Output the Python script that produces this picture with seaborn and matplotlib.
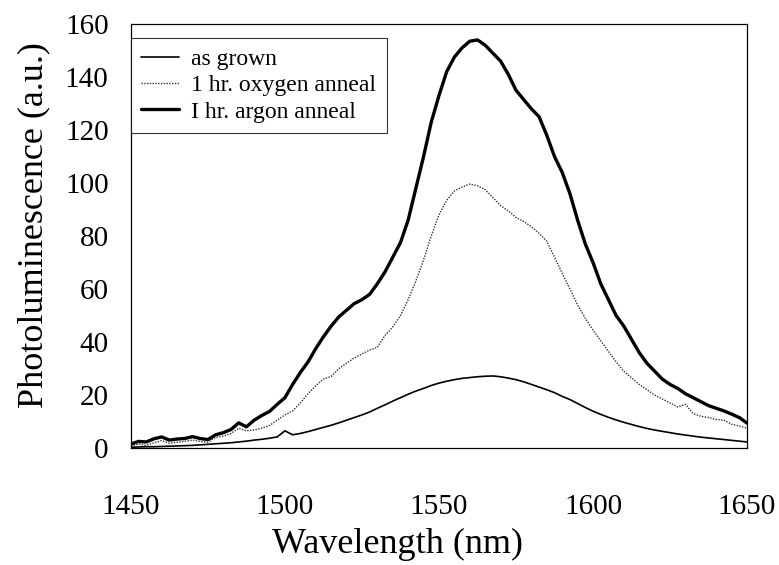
import matplotlib
matplotlib.use("Agg")
import matplotlib.pyplot as plt
import seaborn as sns
import pandas as pd

wavelength = [1450, 1452.5, 1455, 1457.5, 1460, 1462.5, 1465, 1467.5, 1470, 1472.5,
              1475, 1477.5, 1480, 1482.5, 1485, 1487.5, 1490, 1492.5, 1495, 1497.5,
              1500, 1502.5, 1505, 1507.5, 1510, 1512.5, 1515, 1517.5, 1520, 1522.5,
              1525, 1527.5, 1530, 1532.5, 1535, 1537.5, 1540, 1542.5, 1545, 1547.5,
              1550, 1552.5, 1555, 1557.5, 1560, 1562.5, 1565, 1567.5, 1570, 1572.5,
              1575, 1577.5, 1580, 1582.5, 1585, 1587.5, 1590, 1592.5, 1595, 1597.5,
              1600, 1602.5, 1605, 1607.5, 1610, 1612.5, 1615, 1617.5, 1620, 1622.5,
              1625, 1627.5, 1630, 1632.5, 1635, 1637.5, 1640, 1642.5, 1645, 1647.5,
              1650]

as_grown = [0.3, 0.4, 0.5, 0.5, 0.6, 0.7, 0.8, 0.9, 1.0, 1.2,
            1.4, 1.6, 1.8, 2.0, 2.3, 2.6, 3.0, 3.3, 3.7, 4.2,
            6.5, 5.0, 5.5, 6.2, 7.0, 7.8, 8.6, 9.5, 10.5, 11.5,
            12.5, 13.6, 15.0, 16.3, 17.7, 19.0, 20.3, 21.5, 22.5, 23.6,
            24.5, 25.2, 25.8, 26.3, 26.6, 26.9, 27.1, 27.2, 26.9, 26.4,
            25.8, 25.0, 24.0, 23.0, 22.0, 20.9, 19.5, 18.3, 16.8, 15.3,
            13.9, 12.7, 11.6, 10.6, 9.7, 8.9, 8.1, 7.4, 6.8, 6.3,
            5.8, 5.3, 4.9, 4.5, 4.1, 3.8, 3.5, 3.2, 2.9, 2.6,
            2.3]

oxygen = [0.8, 1.5, 1.0, 2.0, 2.8, 1.8, 2.2, 2.5, 3.0, 2.5,
          2.2, 4.0, 4.5, 5.5, 7.5, 6.5, 6.8, 7.5, 8.5, 10.5,
          12.5, 14.0, 17.0, 20.5, 23.5, 26.0, 27.0, 30.0, 32.0, 34.0,
          35.5, 37.0, 38.0, 42.5, 45.7, 50.0, 56.0, 63.0, 71.0, 80.0,
          88.0, 93.5, 97.0, 98.5, 99.6, 99.0, 97.5, 94.5, 91.5, 89.5,
          87.0, 85.5, 83.5, 81.0, 78.0, 72.0, 66.0, 60.0, 54.0, 49.0,
          44.5, 40.5, 36.5, 32.5, 29.0, 26.5, 24.0, 22.0, 20.0, 18.5,
          17.0, 15.5, 16.5, 13.0, 12.0, 11.5, 10.8, 10.5, 9.0, 8.3,
          7.5]

argon = [1.5, 2.5, 2.3, 3.5, 4.2, 3.0, 3.4, 3.6, 4.3, 3.6,
         3.2, 5.0, 5.8, 7.0, 9.5, 8.0, 10.5, 12.3, 13.8, 16.5,
         19.0, 24.0, 28.5, 32.5, 37.5, 42.0, 46.0, 49.5, 52.0, 54.5,
         56.0, 58.0, 62.0, 66.5, 72.0, 77.5, 86.0, 98.0, 110.0, 123.0,
         133.0, 142.0, 147.5, 151.0, 153.5, 154.0, 152.0, 149.0, 146.0, 141.0,
         135.0, 131.5, 128.0, 125.0, 118.0, 110.0, 104.0, 96.0, 86.0, 77.0,
         70.0, 62.0, 56.0, 50.0, 46.0, 41.0, 36.0, 32.0, 29.0, 26.0,
         24.0, 22.5, 20.5, 19.0, 17.5, 16.0, 15.0, 14.0, 12.8, 11.5,
         9.4]

labels = ["as grown", "1 hr. oxygen anneal", "I hr. argon anneal"]
x_ticks = [1450, 1500, 1550, 1600, 1650]
y_ticks = [0, 20, 40, 60, 80, 100, 120, 140, 160]

sns.set_theme(style="white")
plt.rcParams["font.family"] = ["Liberation Serif", "DejaVu Serif"]

fig = plt.figure(figsize=(7.79, 5.65), dpi=100)
ax = fig.add_axes([0.168, 0.207, 0.791, 0.7505])

df = pd.DataFrame({"wl": wavelength, "g": as_grown, "o": oxygen, "a": argon})

sns.lineplot(data=df, x="wl", y="g", ax=ax, color="black", linewidth=1.2,
             label=labels[0])
sns.lineplot(data=df, x="wl", y="o", ax=ax, color="#333333", linewidth=1.0,
             linestyle=(0, (1, 1)), label=labels[1])
sns.lineplot(data=df, x="wl", y="a", ax=ax, color="black", linewidth=2.4,
             label=labels[2])

ax.set_xlim(1450, 1650)
ax.set_ylim(0, 160)
ax.set_xticks(x_ticks)
ax.set_yticks(y_ticks)
ax.tick_params(axis="both", direction="in", length=3, width=0.8, colors="black",
               labelsize=21)
ax.tick_params(axis="y", pad=16)
ax.tick_params(axis="x", pad=33)
for s in ax.spines.values():
    s.set_color("black")
    s.set_linewidth(0.9)

ax.set_xlabel("Wavelength (nm)", fontsize=26, color="black")
ax.set_ylabel("Photoluminescence (a.u.)", fontsize=26, color="black")
ax.xaxis.set_label_coords(0.432, -0.188)
ax.yaxis.set_label_coords(-0.131, 0.526)

leg = ax.legend(loc="upper left", bbox_to_anchor=(0.0, 0.967), borderaxespad=0,
                fontsize=17, frameon=True, fancybox=False, handlelength=1.6,
                handletextpad=0.5, labelspacing=0.2, borderpad=0.45)
leg.get_frame().set_edgecolor("black")
leg.get_frame().set_linewidth(0.8)
for t in leg.get_texts():
    t.set_color("black")

fig.savefig("out.png", dpi=100, facecolor="white")
